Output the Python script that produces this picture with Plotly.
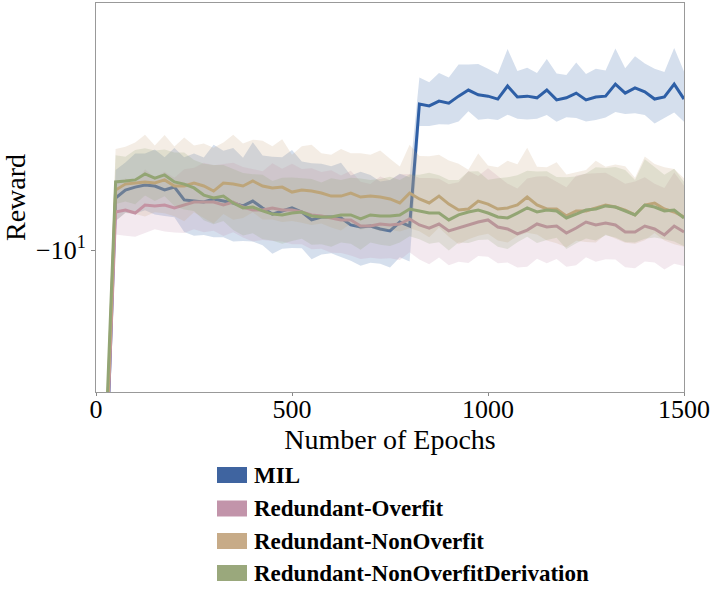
import plotly.graph_objects as go

# epochs (x axis)
epochs = list(range(0, 1501, 25))

# mean reward per method (negative rewards, drawn on a symlog-like axis)
mil_mean = [
    -300, -60,
    -6.71, -6.31, -6.17, -6.07, -6.12, -6.31, -6.17, -6.81, -6.87, -6.92,
    -6.76, -6.87, -6.97, -7.13, -6.87, -7.24, -7.59, -7.41, -7.24, -7.47,
    -7.94, -7.76, -7.76, -7.82, -8.25, -8.38, -8.32, -8.51, -8.64, -8.07, -8.32,
    -3.26, -3.31, -3.19, -3.24, -3.07, -2.93, -3.04, -3.07, -3.14, -2.84,
    -3.09, -3.07, -3.11, -2.93, -3.16, -3.11, -3.00, -3.16, -3.09, -3.07,
    -2.80, -3.00, -2.88, -2.97, -3.14, -3.09, -2.80, -3.14,
]
mil_std = [
    50, 12,
    1.3, 1.2, 1.4, 1.3, 1.5, 1.4, 1.6, 1.9, 2.1, 2.0,
    2.3, 2.2, 2.4, 2.2, 2.5, 2.4, 2.7, 2.5, 2.6, 2.4,
    2.8, 2.6, 2.5, 2.7, 2.6, 2.9, 2.7, 2.6, 2.8, 2.5, 2.6,
    0.60, 0.55, 0.62, 0.58, 0.66, 0.52, 0.64, 0.58, 0.55, 0.70,
    0.56, 0.60, 0.54, 0.62, 0.58, 0.50, 0.63, 0.57, 0.60, 0.55,
    0.67, 0.52, 0.62, 0.58, 0.65, 0.54, 0.68, 0.60,
]

overfit_mean = [
    -300, -55,
    -7.47, -7.36, -7.53, -7.08, -7.13, -7.08, -7.24, -7.08, -6.92, -6.92,
    -6.92, -7.08, -6.92, -7.19, -7.36, -7.36, -7.24, -7.36, -7.36, -7.47,
    -7.64, -7.70, -7.82, -7.94, -7.94, -8.32, -8.32, -8.19, -8.25, -8.19, -7.88,
    -8.25, -8.45, -8.19, -8.64, -8.45, -8.25, -8.07, -7.94, -8.38, -8.51,
    -8.84, -8.58, -8.19, -8.38, -8.32, -8.78, -8.45, -8.07, -8.25, -8.13,
    -8.25, -8.71, -8.71, -8.32, -8.51, -8.91, -8.32, -8.71,
]
overfit_std = [
    50, 11,
    1.4, 1.6, 1.5, 1.7, 1.4, 1.6, 1.5, 1.7, 1.6, 1.8,
    1.7, 1.9, 1.8, 1.9, 2.0, 1.9, 2.1, 2.0, 2.2, 2.1,
    2.3, 2.2, 2.4, 2.3, 2.5, 2.4, 2.3, 2.5, 2.4, 2.6, 2.3,
    2.5, 2.7, 2.4, 2.6, 2.5, 2.8, 2.4, 2.6, 2.7, 2.5,
    2.6, 2.8, 2.5, 2.7, 2.4, 2.6, 2.8, 2.5, 2.7, 2.6,
    2.5, 2.7, 2.8, 2.6, 2.5, 2.7, 2.8, 2.6,
]

nonoverfit_mean = [
    -300, -50,
    -6.31, -6.03, -5.98, -5.93, -5.98, -5.84, -6.12, -6.12, -5.98, -6.12,
    -6.36, -5.98, -6.03, -6.12, -5.89, -6.12, -6.21, -6.17, -6.41, -6.31,
    -6.36, -6.46, -6.61, -6.61, -6.46, -6.66, -6.61, -6.66, -6.76, -6.97, -6.46,
    -6.76, -6.97, -6.61, -7.03, -7.36, -7.30, -6.87, -7.03, -7.30, -7.24,
    -7.08, -6.66, -7.08, -7.30, -7.30, -7.70, -7.41, -7.41, -7.24, -7.08,
    -7.19, -7.36, -7.64, -7.08, -6.97, -7.30, -7.47, -7.76,
]
nonoverfit_std = [
    50, 10,
    1.7, 1.5, 1.6, 1.8, 1.5, 1.7, 1.6, 1.9, 1.5, 1.7,
    1.8, 1.6, 1.9, 1.7, 1.6, 1.8, 1.7, 1.9, 1.6, 1.8,
    1.9, 1.7, 1.8, 2.0, 1.7, 1.9, 1.8, 2.0, 1.8, 1.7, 2.0,
    1.9, 2.1, 1.8, 2.0, 2.2, 1.9, 2.1, 1.8, 2.0, 2.2,
    1.9, 2.1, 1.8, 2.0, 2.2, 2.1, 1.9, 2.0, 2.2, 1.8,
    2.0, 2.1, 1.9, 2.2, 1.8, 2.0, 2.1, 2.0,
]

derivation_mean = [
    -300, -45,
    -5.93, -5.89, -5.84, -5.58, -5.76, -5.62, -5.93, -6.03, -6.21, -6.56,
    -6.71, -6.61, -6.97, -7.24, -7.19, -7.41, -7.59, -7.64, -7.53, -7.47,
    -7.70, -7.76, -7.76, -7.64, -7.64, -7.88, -7.64, -7.70, -7.70, -7.64, -7.30,
    -7.41, -7.53, -7.53, -7.94, -7.64, -7.47, -7.36, -7.53, -7.76, -7.82,
    -7.53, -7.24, -7.47, -7.36, -7.41, -7.82, -7.59, -7.36, -7.30, -7.13,
    -7.19, -7.41, -7.64, -7.08, -7.19, -7.41, -7.36, -7.82,
]
derivation_std = [
    50, 9,
    1.1, 1.0, 1.2, 1.0, 1.1, 1.0, 1.2, 1.3, 1.2, 1.4,
    1.5, 1.4, 1.6, 1.7, 1.6, 1.8, 1.7, 1.9, 1.8, 1.7,
    1.9, 1.8, 2.0, 1.8, 1.9, 2.1, 1.8, 1.9, 2.0, 1.8, 1.7,
    1.8, 2.0, 1.9, 2.1, 1.8, 2.0, 1.9, 1.7, 2.0, 2.1,
    1.9, 1.8, 2.0, 1.9, 1.7, 2.1, 1.9, 1.8, 2.0, 1.8,
    1.9, 2.0, 1.8, 2.1, 1.9, 1.8, 2.0, 1.9,
]

names = ["MIL", "Redundant-Overfit", "Redundant-NonOverfit", "Redundant-NonOverfitDerivation"]
means = [mil_mean, overfit_mean, nonoverfit_mean, derivation_mean]
stds = [mil_std, overfit_std, nonoverfit_std, derivation_std]
colors = [(46, 95, 166), (196, 143, 173), (201, 166, 124), (147, 165, 116)]
patch_colors = ["#3f64a0", "#c294aa", "#c7ab88", "#9aa87c"]

fig = go.Figure()

for name, mean, std, (r, g, b) in zip(names, means, stds, colors):
    # plotted on a reversed log axis of |reward|, so the band edges swap
    upper = [-(m + s) for m, s in zip(mean, std)]
    lower = [-(m - s) for m, s in zip(mean, std)]
    fig.add_trace(go.Scatter(
        x=epochs + epochs[::-1],
        y=upper + lower[::-1],
        fill="toself",
        fillcolor=f"rgba({r},{g},{b},0.2)",
        line=dict(width=0),
        hoverinfo="skip",
        showlegend=False,
    ))
    fig.add_trace(go.Scatter(
        x=epochs,
        y=[-m for m in mean],
        mode="lines",
        line=dict(color=f"rgb({r},{g},{b})", width=3),
        name=name,
        showlegend=False,
    ))

serif = "Liberation Serif, Times New Roman, serif"

# plot area in pixels: x 96..684, y 3..392
def px_x(px):
    return (px - 96) / 588


def px_y(py):
    return (392 - py) / 389


legend_rows = [475, 508.5, 541, 573]
for name, color, cy in zip(names, patch_colors, legend_rows):
    fig.add_shape(
        type="rect", xref="paper", yref="paper",
        x0=px_x(217), x1=px_x(247), y0=px_y(cy - 8), y1=px_y(cy + 8),
        fillcolor=color, line=dict(width=0),
    )
    fig.add_annotation(
        x=px_x(252), y=px_y(cy), xref="paper", yref="paper",
        text=f"<b>{name}</b>", showarrow=False,
        xanchor="left", yanchor="middle",
        font=dict(family=serif, size=23, color="black"),
    )

fig.update_layout(
    width=715,
    height=592,
    margin=dict(l=96, r=31, t=3, b=200),
    plot_bgcolor="white",
    paper_bgcolor="white",
    showlegend=False,
    font=dict(family=serif, color="black"),
)

fig.update_xaxes(
    range=[0, 1500],
    tickvals=[0, 500, 1000, 1500],
    ticks="outside", ticklen=3, tickcolor="#888",
    ticklabelstandoff=-9,
    showline=True, linecolor="#999", linewidth=1, mirror=True,
    showgrid=False, zeroline=False,
    tickfont=dict(family=serif, size=26),
    title=dict(text="Number of Epochs", font=dict(family=serif, size=28), standoff=0),
)

fig.update_yaxes(
    type="log",
    range=[1.4733, 0.1767],
    tickvals=[10],
    ticktext=["\u221210<sup>1</sup>"],
    ticks="outside", ticklen=4, tickcolor="#888",
    showline=True, linecolor="#999", linewidth=1, mirror=True,
    showgrid=False, zeroline=False,
    tickfont=dict(family=serif, size=26),
    title=dict(text="Reward", font=dict(family=serif, size=28), standoff=8),
)

fig.write_html(
    "out.html",
    config={"displayModeBar": False},
    post_script="document.body.style.margin = '0';",
)
